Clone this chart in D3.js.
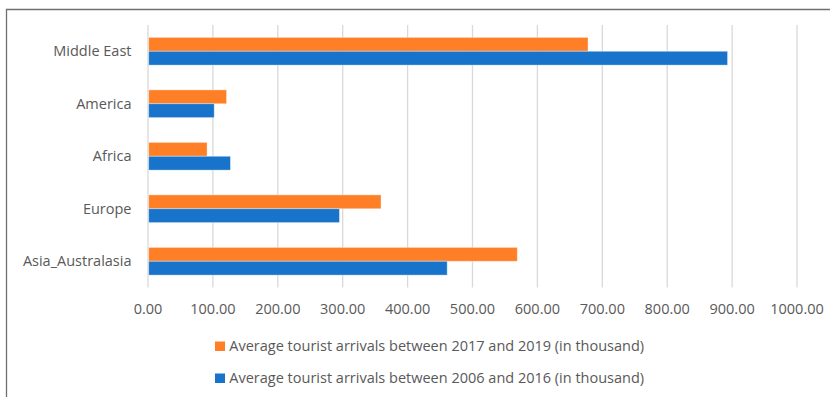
<!DOCTYPE html>
<html><head><meta charset="utf-8">
<script src="https://cdn.jsdelivr.net/npm/d3@7"></script>
<style>body{margin:0;background:#fff}svg{display:block}</style>
</head><body>
<svg id="c" width="830" height="397"></svg>
<script>
const categories = ["Middle East", "America", "Africa", "Europe", "Asia_Australasia"];
const series2017_2019 = [678, 121, 91, 359, 569];
const series2006_2016 = [893, 102, 127, 295, 461];
const seriesNames = ["Average tourist arrivals between 2017 and 2019 (in thousand)",
                     "Average tourist arrivals between 2006 and 2016 (in thousand)"];
const xTicks = [0,100,200,300,400,500,600,700,800,900,1000];
const colors = ["#FF7F27", "#1874CB"];

const svg = d3.select("#c");
const font = "'Open Sans', sans-serif";
const fs = 14.5;
const textColor = "#595959";

// frame
svg.append("path").attr("d", "M6.5,400 V9.5 H835").attr("fill","none")
  .attr("stroke","#6f6f6f").attr("stroke-width",1.3);

const x = d3.scaleLinear().domain([0,1000]).range([148, 797]);
const y = d3.scaleBand().domain(categories).range([25, 287.5]).paddingInner(0.472).paddingOuter(0.236);
const ySub = d3.scaleBand().domain([0,1]).range([0, y.bandwidth()]);

// grid
svg.append("g").selectAll("line").data(xTicks).join("line")
  .attr("x1", d=>x(d)).attr("x2", d=>x(d)).attr("y1",25).attr("y2",287.5)
  .attr("stroke","#d9d9d9").attr("stroke-width",1.3);

const data = categories.map((c,i)=>({c, v:[series2017_2019[i], series2006_2016[i]]}));
const g = svg.append("g");
data.forEach(d=>{
  d.v.forEach((v,k)=>{
    g.append("rect").attr("x", x(0)+0.7).attr("y", y(d.c)+ySub(k))
      .attr("width", x(v)-x(0)-0.7).attr("height", ySub.bandwidth())
      .attr("fill", colors[k]).attr("stroke","rgba(255,255,255,0.45)").attr("stroke-width",0.8);
  });
});

// category labels
svg.append("g").selectAll("text").data(categories).join("text")
  .attr("x", 131.5).attr("y", d=>y(d)+y.bandwidth()/2).attr("dy","0.35em")
  .attr("text-anchor","end").attr("font-family",font).attr("font-size",fs).attr("fill",textColor)
  .text(d=>d);

// x axis labels
svg.append("g").selectAll("text").data(xTicks).join("text")
  .attr("x", d=>x(d)).attr("y", 313.5).attr("text-anchor","middle")
  .attr("font-family",font).attr("font-size",fs).attr("fill",textColor)
  .text(d=>d3.format(".2f")(d));

// legend
const leg = svg.append("g");
seriesNames.forEach((n,k)=>{
  const yy = 346 + k*32;
  leg.append("rect").attr("x",215).attr("y",yy-4.5).attr("width",10).attr("height",9.5).attr("fill",colors[k]);
  leg.append("text").attr("x",229.3).attr("y",yy+5).attr("font-family",font).attr("font-size",fs)
    .attr("fill",textColor).text(n);
});
</script>
</body></html>
